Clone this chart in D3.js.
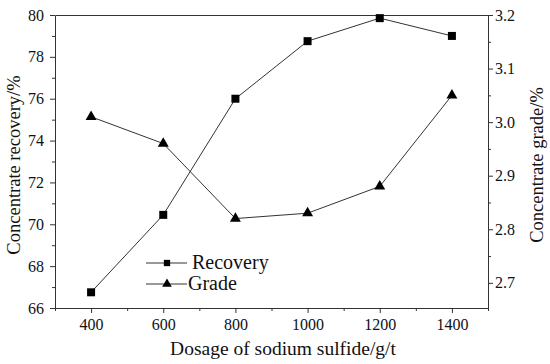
<!DOCTYPE html>
<html>
<head>
<meta charset="utf-8">
<script src="https://cdn.jsdelivr.net/npm/d3@7"></script>
<style>
  body { margin: 0; background: #fff; }
</style>
</head>
<body>
<div id="wrapper"></div>
<script>
// data
const dosage = [400, 600, 800, 1000, 1200, 1400];
const recovery = [66.75, 70.45, 76.0, 78.75, 79.85, 79.0];
const grade = [3.01, 2.96, 2.82, 2.83, 2.88, 3.05];
const xTicks = [400, 600, 800, 1000, 1200, 1400];
const yLeftTicks = [66, 68, 70, 72, 74, 76, 78, 80];
const yRightTicks = [2.7, 2.8, 2.9, 3.0, 3.1, 3.2];

const FONT = '"Liberation Serif"';

const dimensions = {
  width: 550,
  height: 364,
  margin: { top: 15, right: 62, bottom: 56, left: 55 },
};
dimensions.boundWidth = dimensions.width - dimensions.margin.left - dimensions.margin.right;
dimensions.boundHeight = dimensions.height - dimensions.margin.top - dimensions.margin.bottom;

const svg = d3.select('#wrapper').append('svg')
  .attr('width', dimensions.width)
  .attr('height', dimensions.height);
const bounds = svg.append('g')
  .attr('transform', `translate(${dimensions.margin.left},${dimensions.margin.top})`);

// scales
const xScale = d3.scaleLinear().domain([300, 1500]).range([0, dimensions.boundWidth]);
const yLeft = d3.scaleLinear().domain([66, 80]).range([dimensions.boundHeight, 0]);
const yRight = d3.scaleLinear().domain([2.653, 3.2]).range([dimensions.boundHeight, 0]);

// axes
const styleAxis = g => {
  g.attr('font-family', null).attr('font-size', null);
  g.select('.domain').attr('stroke', '#333');
  g.selectAll('.tick line').attr('stroke', '#333');
  g.selectAll('.tick text').attr('fill', '#111')
    .attr('font-family', FONT).attr('font-size', 16);
};

const xMinor = d3.range(300, 1501, 100);
bounds.append('g')
  .attr('transform', `translate(0,${dimensions.boundHeight})`)
  .call(d3.axisBottom(xScale).tickValues(xMinor).tickSize(3)
    .tickFormat(d => xTicks.includes(d) ? d : '').tickSizeOuter(0))
  .call(styleAxis)
  .call(g => g.selectAll('.tick').filter(d => xTicks.includes(d)).select('line').attr('y2', 5))
  .call(g => g.selectAll('.tick text').attr('dy', null).attr('y', 22));

bounds.append('g')
  .call(d3.axisTop(xScale).ticks(0).tickSizeOuter(0))
  .call(styleAxis);

const yLeftMinor = d3.range(66, 80.01, 1);
bounds.append('g')
  .call(d3.axisLeft(yLeft).tickValues(yLeftMinor).tickSize(3)
    .tickFormat(d => yLeftTicks.includes(d) ? d : '').tickSizeOuter(0))
  .call(styleAxis)
  .call(g => g.selectAll('.tick').filter(d => yLeftTicks.includes(d)).select('line').attr('x2', -5))
  .call(g => g.selectAll('.tick text').attr('x', -11));

const yRightMinor = d3.range(2.7, 3.21, 0.05).map(v => +v.toFixed(2));
bounds.append('g')
  .attr('transform', `translate(${dimensions.boundWidth},0)`)
  .call(d3.axisRight(yRight).tickValues(yRightMinor).tickSize(3)
    .tickFormat(d => yRightTicks.includes(d) ? d3.format('.1f')(d) : '').tickSizeOuter(0))
  .call(styleAxis)
  .call(g => g.selectAll('.tick').filter(d => yRightTicks.includes(d)).select('line').attr('x2', 5))
  .call(g => g.selectAll('.tick text').attr('x', 7));

// lines
const recData = dosage.map((d, i) => ({ x: d, y: recovery[i] }));
const gradeData = dosage.map((d, i) => ({ x: d, y: grade[i] }));

bounds.append('path')
  .datum(recData)
  .attr('fill', 'none').attr('stroke', '#333').attr('stroke-width', 1)
  .attr('d', d3.line().x(d => xScale(d.x)).y(d => yLeft(d.y)));
bounds.append('path')
  .datum(gradeData)
  .attr('fill', 'none').attr('stroke', '#333').attr('stroke-width', 1)
  .attr('d', d3.line().x(d => xScale(d.x)).y(d => yRight(d.y)));

const square = d3.symbol().type(d3.symbolSquare).size(64);
const triangle = d3.symbol().type(d3.symbolTriangle).size(52);

bounds.selectAll('.sq').data(recData).join('path')
  .attr('class', 'sq')
  .attr('d', square)
  .attr('transform', d => `translate(${xScale(d.x)},${yLeft(d.y)})`)
  .attr('fill', '#000');
bounds.selectAll('.tri').data(gradeData).join('path')
  .attr('class', 'tri')
  .attr('d', triangle)
  .attr('transform', d => `translate(${xScale(d.x)},${yRight(d.y)})`)
  .attr('fill', '#000');

// legend
const legendSquare = d3.symbol().type(d3.symbolSquare).size(40);
const legendTriangle = d3.symbol().type(d3.symbolTriangle).size(40);
const legend = svg.append('g').attr('transform', 'translate(146,263)');
const items = [{ label: 'Recovery', sym: legendSquare }, { label: 'Grade', sym: legendTriangle }];
items.forEach((it, i) => {
  const g = legend.append('g').attr('transform', `translate(0,${i * 21})`);
  g.append('line').attr('x1', 0).attr('x2', 41).attr('y1', 0).attr('y2', 0)
    .attr('stroke', '#333');
  g.append('path').attr('d', it.sym).attr('transform', 'translate(21,0)').attr('fill', '#000');
  g.append('text').attr('x', i === 0 ? 46 : 42).attr('y', 6)
    .attr('font-family', FONT).attr('font-size', 20).attr('fill', '#111').text(it.label);
});

// axis titles
svg.append('text')
  .attr('x', 283)
  .attr('y', 355)
  .attr('text-anchor', 'middle')
  .attr('font-family', FONT).attr('font-size', 19.5).attr('fill', '#111')
  .text('Dosage of sodium sulfide/g/t');
svg.append('text')
  .attr('transform', 'translate(20,165) rotate(-90)')
  .attr('text-anchor', 'middle')
  .attr('font-family', FONT).attr('font-size', 18.5).attr('fill', '#111')
  .text('Concentrate recovery/%');
svg.append('text')
  .attr('transform', 'translate(543,165) rotate(-90)')
  .attr('text-anchor', 'middle')
  .attr('font-family', FONT).attr('font-size', 18.5).attr('fill', '#111')
  .text('Concentrate grade/%');
</script>
</body>
</html>
